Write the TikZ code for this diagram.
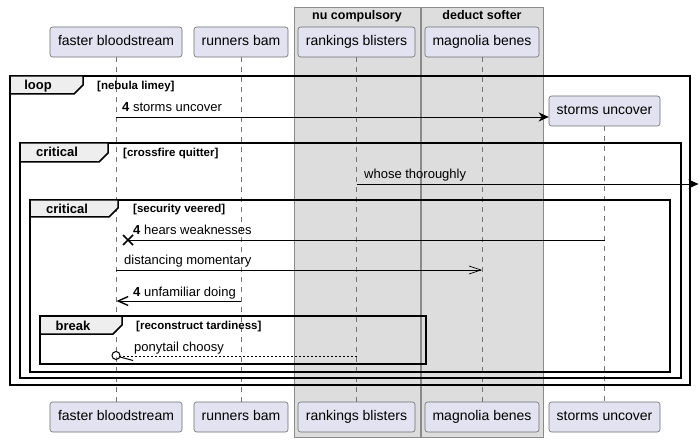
\documentclass[tikz,border=0pt]{standalone}
\usepackage{fontspec}
\setmainfont{Liberation Sans}
\usetikzlibrary{arrows.meta,calc}
\definecolor{partfill}{HTML}{E2E2F0}
\definecolor{partline}{HTML}{6E6E6E}
\definecolor{boxfill}{HTML}{DDDDDD}
\definecolor{boxline}{HTML}{8A8A8A}
\definecolor{tabfill}{HTML}{EEEEEE}
\begin{document}
\begin{tikzpicture}[x=1pt,y=-1pt,
  part/.style={draw=partline, fill=partfill, rounded corners=2.5pt, minimum height=30pt,
    inner xsep=0pt, text height=10pt, text depth=3pt, font=\fontsize{14}{16}\selectfont, line width=0.6pt},
  life/.style={draw=black!55, dash pattern=on 5pt off 5pt, line width=0.6pt},
  grpbox/.style={draw=boxline, fill=boxfill, line width=0.7pt},
  grptitle/.style={font=\fontsize{12.5}{14}\bfseries\selectfont, anchor=base, inner sep=0pt},
  framebox/.style={draw=black, line width=1.5pt},
  tabbox/.style={draw=black, fill=tabfill, line width=1.5pt, line join=miter},
  tablabel/.style={font=\fontsize{13}{15}\bfseries\selectfont, anchor=base, inner sep=0pt},
  cond/.style={font=\fontsize{11.5}{13}\bfseries\selectfont, anchor=base west, inner sep=0pt},
  mtext/.style={font=\fontsize{13}{15}\selectfont, anchor=base west, inner sep=0pt},
  msg/.style={draw=black, line width=0.9pt},
  filledhead/.style={-{Stealth[length=10pt,width=9pt,inset=3pt]}},
  openhead/.style={-{Straight Barb[length=12pt,width=8pt]}},
  thickopen/.style={-{Straight Barb[length=10pt,width=9pt,line width=1.4pt]}}
]
\useasboundingbox (0,0) rectangle (700,443);
\fill[white] (0,0) rectangle (700,443);

% group boxes
\draw[grpbox] (294,7) rectangle (420,437);
\draw[grpbox] (421,7) rectangle (543,437);
\node[grptitle] (g1) at (357,19.5) {nu compulsory};
\node[grptitle] (g2) at (482,19.5) {deduct softer};

% participants
\node[part, minimum width=132pt] (fbT) at (116,42) {faster bloodstream};
\node[part, minimum width=94pt]  (rbT) at (241,42) {runners bam};
\node[part, minimum width=117pt] (rkT) at (356.5,42) {rankings blisters};
\node[part, minimum width=114pt] (mbT) at (482,42) {magnolia benes};
\node[part, minimum width=111pt] (suT) at (604.5,111) {storms uncover};

\node[part, minimum width=132pt] (fbB) at (116,417) {faster bloodstream};
\node[part, minimum width=94pt]  (rbB) at (241,417) {runners bam};
\node[part, minimum width=117pt] (rkB) at (356.5,417) {rankings blisters};
\node[part, minimum width=114pt] (mbB) at (482,417) {magnolia benes};
\node[part, minimum width=111pt] (suB) at (604.5,417) {storms uncover};

% lifelines
\draw[life] (fbT.south) -- (fbB.north);
\draw[life] (rbT.south) -- (rbB.north);
\draw[life] (rkT.south) -- (rkB.north);
\draw[life] (mbT.south) -- (mbB.north);
\draw[life] (suT.south) -- (suB.north);

% frames
\draw[framebox] (10,76) rectangle (690,385);
\draw[tabbox] (10,76) -- (83,76) -- (83,85) -- (74,94) -- (10,94) -- cycle;
\node[tablabel] (t1) at (38,89.5) {loop};
\node[cond] (c1) at (97,89.5) {[nebula limey]};

\draw[framebox] (20,143) rectangle (681,378);
\draw[tabbox] (20,143) -- (108,143) -- (108,153) -- (99,162) -- (20,162) -- cycle;
\node[tablabel] (t2) at (57,157) {critical};
\node[cond] (c2) at (123,157) {[crossfire quitter]};

\draw[framebox] (30,200) rectangle (670,372);
\draw[tabbox] (30,200) -- (118,200) -- (118,208) -- (109,217) -- (30,217) -- cycle;
\node[tablabel] (t3) at (67,213.5) {critical};
\node[cond] (c3) at (133,213) {[security veered]};

\draw[framebox] (40,316) rectangle (426,364);
\draw[tabbox] (40,316) -- (122,316) -- (122,325) -- (113,334) -- (40,334) -- cycle;
\node[tablabel] (t4) at (73,330) {break};
\node[cond] (c4) at (136,329.5) {[reconstruct tardiness]};

% message anchor points
\coordinate (m1s) at (116,117);
\coordinate (m2s) at (356.5,184);
\coordinate (m2e) at (698.5,184);
\coordinate (m3s) at (604.5,240);
\coordinate (m3e) at (128,240);
\coordinate (m4s) at (116,270);
\coordinate (m4e) at (482,270);
\coordinate (m5s) at (241,301);
\coordinate (m5e) at (116.5,301);
\coordinate (m6s) at (356.5,356.5);
\coordinate (m6c) at (116,355.5);

% 1 storms uncover
\draw[msg, filledhead] (m1s) -- (suT.west |- m1s);
\node[mtext] (l1) at (122,112) {\textbf{4} storms uncover};

% 2 whose thoroughly
\draw[msg, filledhead] (m2s) -- (m2e);
\node[mtext] (l2) at (364,179) {whose thoroughly};

% 3 hears weaknesses
\draw[msg] (m3s) -- (m3e);
\draw[line width=1.5pt] ($(m3e)+(-5,-5)$) -- ($(m3e)+(5,5)$) ($(m3e)+(-5,5)$) -- ($(m3e)+(5,-5)$);
\node[mtext] (l3) at (133,235) {\textbf{4} hears weaknesses};

% 4 distancing momentary
\draw[msg, line width=0.7pt, openhead] (m4s) -- (m4e);
\node[mtext] (l4) at (124,265) {distancing momentary};

% 5 unfamiliar doing
\draw[msg, thickopen] (m5s) -- (m5e);
\node[mtext] (l5) at (133,296) {\textbf{4} unfamiliar doing};

% 6 ponytail choosy
\draw[line width=0.7pt, dash pattern=on 2pt off 2pt] (m6s) -- ($(m6c)+(4,1)$);
\draw[line width=1pt] (m6c) circle (4pt);
\draw[line width=1pt] ($(m6c)+(4,1.5)$) -- ($(m6c)+(17,5)$);
\node[mtext] (l6) at (134,351) {ponytail choosy};
\end{tikzpicture}
\end{document}
